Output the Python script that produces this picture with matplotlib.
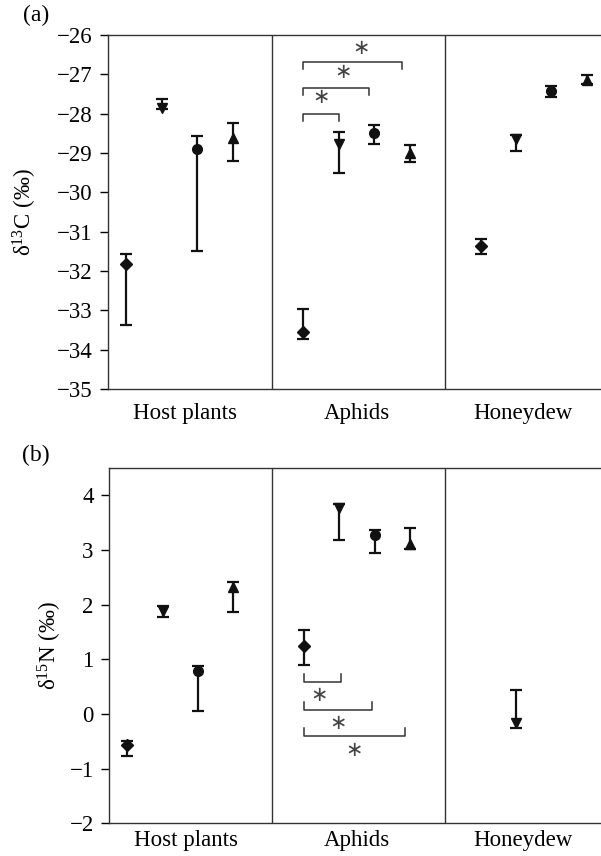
import matplotlib.pyplot as plt

plt.rcParams["font.family"] = ["Liberation Serif", "DejaVu Serif"]
plt.rcParams["mathtext.fontset"] = "custom"
plt.rcParams["mathtext.rm"] = "Liberation Serif"
plt.rcParams["mathtext.it"] = "Liberation Serif:italic"

groups = ["Host plants", "Aphids", "Honeydew"]
group_centres = [2.65, 7.5, 12.2]
dividers = [5.1, 10.0]

# panel (a) delta 13C
pos_a = [1, 2, 3, 4, 6, 7, 8, 9, 11, 12, 13, 14]
mark_a = ["D", "v", "o", "^", "D", "v", "o", "^", "D", "v", "o", "^"]
c_mean = [-31.83, -27.85, -28.91, -28.63, -33.56, -28.77, -28.50, -29.01, -31.36, -28.65, -27.42, -27.14]
c_hi = [-31.58, -27.63, -28.57, -28.25, -32.97, -28.47, -28.30, -28.80, -31.19, -28.55, -27.29, -27.03]
c_lo = [-33.37, -27.89, -31.49, -29.20, -33.73, -29.50, -28.77, -29.23, -31.57, -28.95, -27.57, -27.25]

# panel (b) delta 15N
pos_b = [1, 2, 3, 4, 6, 7, 8, 9, 12]
mark_b = ["D", "v", "o", "^", "D", "v", "o", "^", "v"]
n_mean = [-0.57, 1.88, 0.79, 2.33, 1.25, 3.76, 3.28, 3.11, -0.17]
n_hi = [-0.50, 1.98, 0.87, 2.42, 1.53, 3.85, 3.37, 3.40, 0.43]
n_lo = [-0.77, 1.78, 0.05, 1.87, 0.90, 3.19, 2.95, 3.02, -0.25]

# significance brackets (start, end, level, star x, star y)
brk_a = [(6.0, 7.0, -28.0, 6.5, -27.57),
         (6.0, 7.85, -27.34, 7.12, -26.93),
         (6.0, 8.79, -26.69, 7.63, -26.34)]
brk_b = [(6.0, 7.04, 0.58, 6.42, 0.34),
         (6.0, 7.92, 0.075, 6.97, -0.16),
         (6.0, 8.85, -0.40, 7.41, -0.66)]

fig = plt.figure(figsize=(6.01, 8.56), dpi=100)
ax_a = fig.add_axes([0.1797, 0.5456, 0.8203, 0.4136])
ax_b = fig.add_axes([0.1814, 0.0382, 0.8186, 0.4151])


def draw(ax, pos, marks, mean, hi, lo, brk, leg, ylim, ticks, ylabel, xpad, ypad):
    for x, m, v, h, l in zip(pos, marks, mean, hi, lo):
        ax.errorbar(x, v, yerr=[[v - l], [h - v]], fmt=m, color="#111111",
                    ms=7 if m != "D" else 6.5, elinewidth=1.6, capsize=4,
                    capthick=1.6)
    for x0, x1, y, sx, sy in brk:
        ax.plot([x0, x0, x1, x1], [y + leg, y, y, y + leg], color="#333333", lw=1.1)
        ax.text(sx, sy, "\u2217", family="DejaVu Sans", fontsize=15,
                color="#444444", ha="center", va="center")
    for d in dividers:
        ax.axvline(d, color="#333333", lw=1.0)
    ax.set_xlim(0.48, 14.4)
    ax.set_ylim(*ylim)
    ax.set_yticks(ticks)
    ax.set_xticks(group_centres)
    ax.set_xticklabels(groups)
    ax.tick_params(axis="x", length=0, pad=xpad, labelsize=16.5)
    ax.tick_params(axis="y", direction="out", length=6, width=1, pad=5, labelsize=16.5)
    ax.spines["right"].set_visible(False)
    for s in ["left", "top", "bottom"]:
        ax.spines[s].set_color("#333333")
        ax.spines[s].set_linewidth(1.0)
    ax.set_ylabel(ylabel, fontsize=16.5, labelpad=ypad)


draw(ax_a, pos_a, mark_a, c_mean, c_hi, c_lo, brk_a, -0.18, (-35, -26),
     range(-35, -25), r"δ$^{13}$C (‰)", 10, 13)
draw(ax_b, pos_b, mark_b, n_mean, n_hi, n_lo, brk_b, 0.15, (-2, 4.5),
     range(-2, 5), r"δ$^{15}$N (‰)", 5, 4)

fig.text(0.038, 0.982, "(a)", fontsize=17, va="center")
fig.text(0.036, 0.468, "(b)", fontsize=17, va="center")

fig.savefig("out.png", dpi=100)
